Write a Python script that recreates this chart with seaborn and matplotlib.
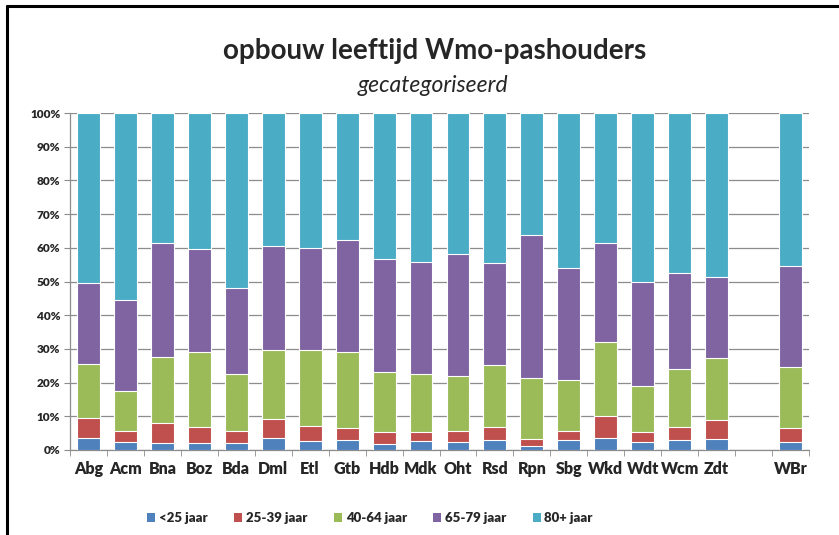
import matplotlib
matplotlib.use("Agg")
import matplotlib.pyplot as plt
import matplotlib.ticker as mticker
from matplotlib.lines import Line2D
from matplotlib.patches import Patch
import pandas as pd
import seaborn as sns

# --- Data (shares per age band, in %) ---
regions = ["Abg", "Acm", "Bna", "Boz", "Bda", "Dml", "Etl", "Gtb", "Hdb", "Mdk",
           "Oht", "Rsd", "Rpn", "Sbg", "Wkd", "Wdt", "Wcm", "Zdt", "WBr"]
# empty slot between the municipalities and the regional total
order = regions[:-1] + [" "] + regions[-1:]

bands = ["<25 jaar", "25-39 jaar", "40-64 jaar", "65-79 jaar", "80+ jaar"]
under25 = [3.5, 2.3, 2.2, 2.0, 2.2, 3.5, 2.7, 3.0, 1.8, 2.7,
           2.3, 3.0, 1.3, 3.0, 3.5, 2.5, 3.0, 3.2, 2.5]
age25_39 = [5.9, 3.4, 5.9, 4.9, 3.5, 5.6, 4.4, 3.4, 3.4, 2.7,
            3.4, 3.9, 1.9, 2.6, 6.7, 2.9, 3.9, 5.7, 3.9]
age40_64 = [16.0, 11.9, 19.4, 22.1, 16.8, 20.5, 22.7, 22.8, 18.0, 17.3,
            16.2, 18.3, 18.3, 15.2, 21.7, 13.7, 17.1, 18.5, 18.1]
age65_79 = [24.2, 26.9, 33.8, 30.6, 25.7, 31.0, 30.0, 33.1, 33.6, 33.1,
            36.4, 30.3, 42.2, 33.1, 29.4, 30.8, 28.6, 23.8, 30.1]
age80plus = [50.4, 55.5, 38.7, 40.4, 51.8, 39.4, 40.2, 37.7, 43.2, 44.2,
             41.7, 44.5, 36.3, 46.1, 38.7, 50.1, 47.4, 48.8, 45.4]

colors = ["#4F81BD", "#C0504D", "#9BBB59", "#8064A2", "#4BACC6"]

df = pd.DataFrame({"regio": regions, bands[0]: under25, bands[1]: age25_39,
                   bands[2]: age40_64, bands[3]: age65_79, bands[4]: age80plus})
df = df.set_index("regio")
df = df.div(df.sum(axis=1), axis=0)
cum = df.cumsum(axis=1).reset_index()

# --- Plot ---
sns.set_style("white")
plt.rcParams["font.family"] = ["Lato", "DejaVu Sans"]

fig = plt.figure(figsize=(8.39, 5.35), dpi=100)
ax = fig.add_axes([70 / 839, 85 / 535, 739 / 839, 337 / 535])

# stacked bars: draw cumulative tops from the top band down
for band, color in reversed(list(zip(bands, colors))):
    sns.barplot(data=cum, x="regio", y=band, order=order, color=color,
                saturation=1, width=0.62, edgecolor="white", linewidth=0.8,
                errorbar=None, ax=ax, zorder=3)

ax.set_ylim(0, 1)
ax.set_xlim(-0.5, len(order) - 0.5)
ax.yaxis.set_major_locator(mticker.MultipleLocator(0.1))
ax.yaxis.set_major_formatter(mticker.PercentFormatter(1.0, decimals=0))
ax.grid(axis="y", color="#8C8C8C", linewidth=0.9, zorder=0)
ax.set_axisbelow(True)
ax.set_xlabel("")
ax.set_ylabel("")

for side in ["top", "right"]:
    ax.spines[side].set_visible(False)
for side in ["left", "bottom"]:
    ax.spines[side].set_color("#8C8C8C")
    ax.spines[side].set_linewidth(0.9)

ax.tick_params(axis="y", which="major", length=4, color="#8C8C8C",
               labelsize=8.5, pad=3, direction="out", left=True)
for lab in ax.get_yticklabels():
    lab.set_fontweight("heavy")

ax.set_xticks(range(len(order)))
ax.set_xticklabels(order, fontsize=11.5, fontweight="heavy")
ax.tick_params(axis="x", which="major", length=0, pad=8)
ax.set_xticks([i + 0.5 for i in range(-1, len(order))], minor=True)
ax.tick_params(axis="x", which="minor", length=4, color="#8C8C8C",
               direction="out", bottom=True)

fig.text(435 / 839, 1 - 51 / 535, "opbouw leeftijd Wmo-pashouders",
         ha="center", va="center", fontsize=20, fontweight="bold")
fig.text(433 / 839, 1 - 86 / 535, "gecategoriseerd",
         ha="center", va="center", fontsize=16.5, fontstyle="italic")

handles = [Patch(facecolor=c, edgecolor="none") for c in colors]
fig.legend(handles, bands, loc="center", bbox_to_anchor=(370 / 839, 1 - 518 / 535),
           ncol=5, frameon=False, prop={"weight": "heavy", "size": 9.5},
           handlelength=0.6, handleheight=0.6, handletextpad=0.3,
           columnspacing=2.0)

# outer chart frame (left and top edges)
fig.add_artist(Line2D([7 / 839, 7 / 839], [0, 1 - 6 / 535],
                      transform=fig.transFigure, color="black", linewidth=2.2))
fig.add_artist(Line2D([7 / 839, 1], [1 - 6 / 535, 1 - 6 / 535],
                      transform=fig.transFigure, color="black", linewidth=2.2))

fig.savefig("out.png", dpi=100)
